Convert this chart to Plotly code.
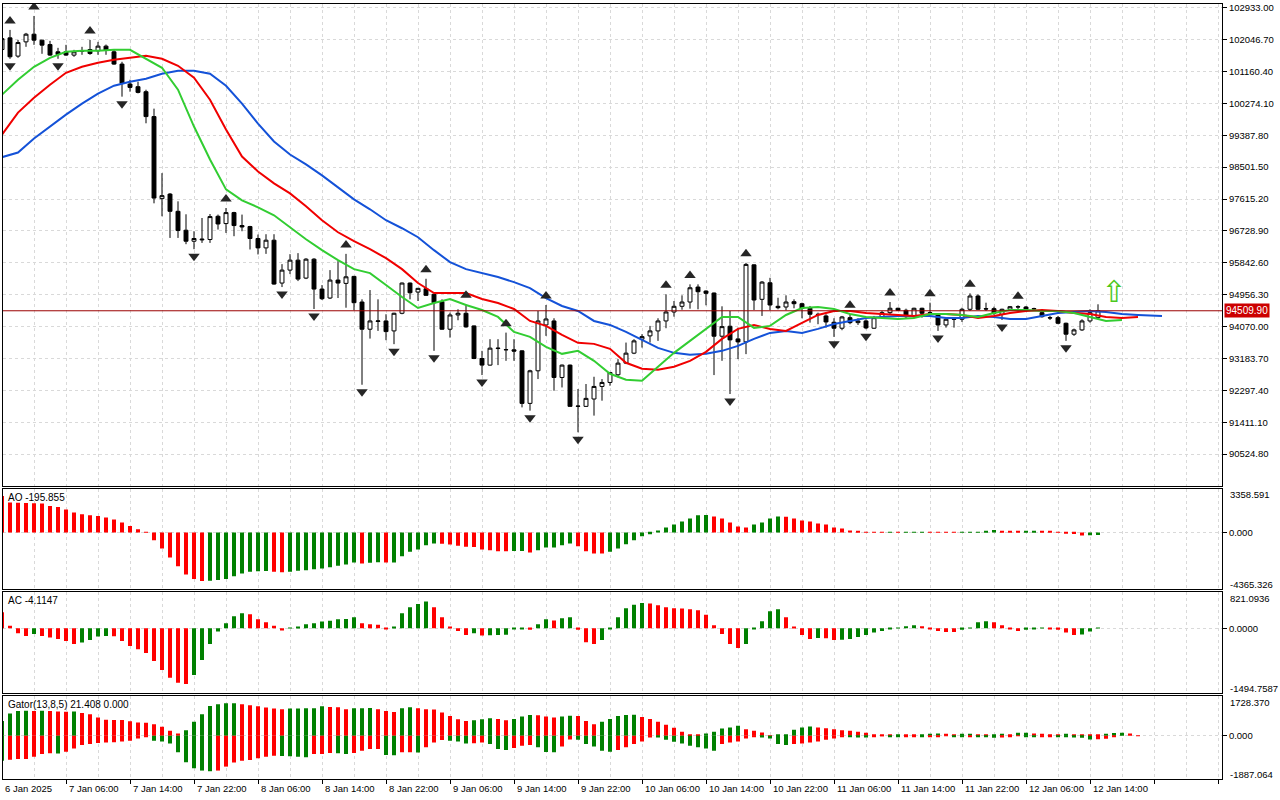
import plotly.graph_objects as go
from plotly.subplots import make_subplots

# H1 bars, first visible bar = 6 Jan 22:00, last = 12 Jan 15:00
bar_open = [
    101770, 102094, 101587, 101983, 102196, 102030, 101908, 101706, 101706, 101615,
    101720, 101770, 101734, 101864, 101706, 101365, 100811, 100737, 100598, 99906,
    97626, 97753, 97274, 96748, 96443, 96479, 96490, 97136, 96933, 97238,
    96878, 96850, 96518, 96257, 96471, 95280, 95640, 95917, 95418, 95944,
    95113, 94864, 95363, 95271, 95465, 94753, 93997, 94213, 94227, 93950,
    94440, 95280, 95030, 95122, 94967, 94762, 93997, 94393, 94440, 94089,
    93183, 93000, 93460, 93424, 93424, 93396, 91936, 92842, 94116, 94227,
    92656, 93000, 91853, 91853, 92058, 92407, 92518, 92731, 93055, 93332,
    93720, 93812, 93950, 94227, 94476, 94634, 94753, 95169, 95058, 95003,
    93803, 94080, 93728, 93645, 95786, 94828, 95288, 94634, 94615, 94762,
    94706, 94579, 94413, 94366, 94191, 94025, 94318, 94180, 94227, 94025,
    94346, 94457, 94579, 94523, 94346, 94579, 94457, 94393, 94116, 94274,
    94274, 94551, 94920, 94568, 94568, 94413, 94551, 94615, 94615, 94568,
    94457, 94318, 94318, 94163, 93859, 93978, 94227, 94318,
]
bar_high = [
    102177, 102315, 102038, 102232, 102703, 102038, 102011, 101817, 101900, 101761,
    101845, 102038, 101983, 101908, 101761, 101429, 100930, 100875, 100653, 100127,
    98335, 97781, 97551, 97191, 96720, 97088, 97199, 97183, 97365, 97260,
    97183, 96870, 96629, 96637, 96637, 95806, 96083, 96111, 95972, 95972,
    95224, 95640, 95889, 96091, 95480, 94828, 95086, 94828, 94413, 94455,
    95295, 95295, 95145, 95399, 94980, 94828, 94457, 94551, 94690, 94100,
    93396, 93720, 93720, 93903, 93720, 93410, 92870, 94504, 94670, 94302,
    93015, 93015, 92335, 92474, 92676, 92612, 92810, 93166, 93626, 93720,
    93859, 94089, 94302, 94967, 94781, 94939, 95244, 95244, 95077, 95015,
    94634, 94504, 94041, 95842, 95800, 95335, 95426, 94872, 94939, 94828,
    94734, 94643, 94457, 94413, 94302, 94366, 94413, 94302, 94274, 94366,
    94504, 94753, 94595, 94568, 94595, 94595, 94734, 94413, 94318, 94318,
    94595, 94994, 94967, 94734, 94623, 94568, 94643, 94662, 94643, 94595,
    94504, 94366, 94366, 94180, 94014, 94274, 94551, 94690,
]
bar_low = [
    101706, 101512, 101540, 101845, 101900, 101651, 101595, 101512, 101595, 101568,
    101623, 101623, 101623, 101623, 101346, 100460, 100598, 100551, 99720, 97496,
    97136, 96534, 96534, 96360, 96221, 96396, 96396, 96767, 96673, 96582,
    96720, 96213, 96075, 96091, 95235, 95169, 95529, 95335, 95390, 94559,
    94809, 94836, 94864, 94595, 94523, 92454, 93737, 93950, 93692, 93582,
    94413, 94828, 94781, 94925, 93396, 93985, 93764, 94246, 94041, 93166,
    92723, 92985, 93000, 93119, 93119, 91825, 91734, 92612, 93812, 92288,
    92379, 91840, 91133, 91840, 91596, 92011, 92427, 92656, 93028, 93305,
    93487, 93626, 93673, 94025, 94346, 94540, 94568, 94551, 94662, 92723,
    93119, 92197, 93166, 93305, 94532, 94366, 94523, 94551, 94523, 94579,
    94302, 94180, 94136, 94041, 93784, 93969, 94136, 94116, 93997, 94010,
    94318, 94413, 94504, 94302, 94318, 94318, 94413, 93950, 94041, 94041,
    94199, 94504, 94532, 94504, 94393, 94255, 94504, 94532, 94532, 94504,
    94318, 94255, 94136, 93673, 93812, 93950, 94180, 94274,
]
bar_close = [
    102074, 101568, 101964, 102196, 102030, 101892, 101615, 101631, 101615, 101706,
    101734, 101659, 101864, 101753, 101365, 100828, 100717, 100579, 99906, 97642,
    97709, 97274, 96739, 96443, 96518, 96498, 97127, 96922, 97238, 96878,
    96839, 96518, 96257, 96471, 95252, 95640, 95917, 95390, 95944, 95113,
    94845, 95363, 95280, 95454, 94734, 93997, 94227, 94227, 93931, 94440,
    95280, 95011, 95133, 94939, 94734, 93997, 94393, 94440, 94061, 93183,
    93000, 93471, 93470, 93430, 93388, 91936, 92842, 94227, 94282, 92656,
    93000, 91853, 91860, 92075, 92407, 92518, 92795, 93055, 93332, 93673,
    93792, 93950, 94227, 94476, 94634, 94753, 95149, 95039, 94994, 93803,
    94069, 93701, 93645, 95798, 94809, 95307, 94670, 94595, 94753, 94706,
    94579, 94413, 94405, 94199, 94025, 94338, 94180, 94227, 94033, 94318,
    94457, 94579, 94523, 94346, 94579, 94440, 94450, 94116, 94274, 94280,
    94551, 94920, 94551, 94560, 94440, 94551, 94623, 94620, 94551, 94560,
    94346, 94310, 94163, 93859, 93978, 94227, 94457, 94509.9,
]

# Alligator lines, read every second bar (shifted 8 / 5 / 3 bars to the right)
jaw_x = list(range(0, 143, 2)) + [145]
jaw = [
    98778, 98908, 99296, 99629, 99961, 100266, 100543, 100764, 100875, 100958,
    101097, 101180, 101180, 101097, 100764, 100266, 99712, 99213, 98853, 98576,
    98271, 97939, 97606, 97330, 97025, 96803, 96554, 96194, 95861, 95667,
    95557, 95446, 95307, 95141, 94864, 94642, 94504, 94227, 94116, 93922,
    93701, 93479, 93341, 93285, 93313, 93396, 93534, 93729, 93895, 93950,
    93895, 94006, 94144, 94227, 94310, 94338, 94366, 94366, 94366, 94310,
    94310, 94366, 94338, 94282, 94282, 94366, 94449, 94476, 94504, 94476,
    94421, 94393, 94366,
]
teeth_x = list(range(0, 143, 2))
teeth = [
    99407, 100016, 100432, 100792, 101124, 101291, 101401, 101484, 101540, 101595,
    101512, 101318, 100986, 100376, 99545, 98797, 98382, 98050, 97773, 97413,
    97025, 96692, 96443, 96221, 95972, 95667, 95280, 95003, 95003, 95003,
    94836, 94726, 94560, 94227, 94089, 93839, 93618, 93590, 93451, 93064,
    92897, 92870, 92953, 93119, 93368, 93729, 94006, 94116, 94006, 93950,
    94172, 94393, 94504, 94504, 94449, 94421, 94393, 94366, 94421, 94421,
    94393, 94310, 94366, 94449, 94504, 94532, 94504, 94449, 94421, 94338,
    94310, 94338,
]
lips_x = list(range(0, 141, 2))
lips = [
    100515, 100930, 101291, 101540, 101706, 101734, 101734, 101761, 101761, 101512,
    101263, 100653, 99629, 98714, 97883, 97578, 97385, 97163, 96831, 96498,
    96194, 95917, 95667, 95557, 95224, 94892, 94587, 94726, 94836, 94670,
    94532, 94338, 93922, 93784, 93507, 93313, 93396, 93119, 92759, 92593,
    92565, 92953, 93341, 93673, 94006, 94338, 94338, 94033, 94089, 94393,
    94587, 94615, 94560, 94421, 94338, 94310, 94282, 94310, 94421, 94421,
    94393, 94338, 94449, 94532, 94532, 94504, 94504, 94449, 94338, 94227,
    94255,
]

fractal_up = [1, 4, 11, 28, 43, 53, 58, 63, 68, 83, 86, 93, 106, 111, 116, 121, 127]
fractal_down = [1, 7, 15, 24, 35, 39, 45, 49, 54, 60, 66, 72, 91, 104, 108, 117, 125, 133]

signal_x = [139]
signal_y = [94950]

ao = [
    2805, 2295, 2290, 2270, 2250, 2219, 2040, 1964, 1760, 1530,
    1403, 1326, 1275, 1148, 995, 765, 510, 255, 51, -587,
    -1224, -1913, -2576, -3213, -3570, -3723, -3698, -3647, -3570, -3341,
    -3137, -3009, -2958, -2950, -3009, -3035, -3009, -2933, -2882, -2805,
    -2754, -2652, -2550, -2448, -2295, -2372, -2310, -2280, -2300, -2290,
    -1810, -1479, -1300, -969, -842, -850, -918, -1020, -1097, -1110,
    -1300, -1352, -1428, -1440, -1420, -1410, -1530, -1352, -1148, -1140,
    -969, -842, -1045, -1428, -1606, -1615, -1479, -1224, -892, -587,
    -280, -128, 153, 383, 612, 842, 1071, 1326, 1352, 1224,
    1071, 765, 459, 383, 612, 765, 1071, 1224, 1210, 1071,
    918, 842, 689, 612, 383, 306, 153, 77, 25, 12,
    5, 20, 10, 40, 55, 60, 40, 15, 5, -5,
    10, 25, 60, 110, 200, 130, 80, 75, 80, 85,
    80, 70, 20, -30, -110, -230, -215, -195.855,
]
ac = [
    369, 54, -115, -177, -131, -177, -215, -246, -292, -361,
    -331, -269, -192, -177, -185, -292, -408, -484, -569, -754,
    -961, -1138, -1253, -1284, -1077, -731, -361, -77, 115, 277,
    346, 323, 208, 138, 54, -54, 15, 38, 92, 115,
    154, 169, 208, 212, 254, 115, 92, 77, -15, 31,
    346, 484, 554, 615, 484, 254, 23, -62, -154, -115,
    -169, -162, -154, -150, -23, -8, -38, 92, 208, 177,
    231, 254, -38, -323, -361, -269, -31, 254, 461, 538,
    577, 570, 530, 484, 461, 455, 438, 415, 308, 69,
    -131, -361, -454, -361, -31, 161, 392, 438, 254, 23,
    -154, -246, -223, -230, -269, -265, -246, -200, -154, -100,
    -62, -23, 15, 46, 69, 46, -23, -62, -85, -88,
    -38, 15, 138, 161, 138, 69, -23, -62, -38, -8,
    15, -8, -38, -100, -154, -146, -77, -4.1147,
]
gator_up = [
    651, 969, 1085, 1090, 1080, 1088, 1082, 1056, 1050, 1060,
    998, 940, 796, 695, 690, 685, 637, 579, 564, 506,
    391, 217, 101, 246, 608, 941, 1302, 1375, 1418, 1425,
    1375, 1331, 1288, 1230, 1187, 1158, 1187, 1190, 1201, 1205,
    1288, 1259, 1244, 1158, 1201, 1205, 1210, 1158, 1085, 1042,
    1201, 1244, 1201, 1158, 1150, 1013, 868, 724, 651, 680,
    724, 767, 738, 680, 738, 839, 912, 897, 839, 796,
    839, 880, 868, 651, 506, 608, 738, 868, 912, 915,
    825, 738, 608, 477, 347, 174, 58, 43, 101, 174,
    318, 362, 434, 289, 217, 145, 20, 30, 72, 260,
    362, 405, 362, 333, 289, 246, 217, 174, 130, 43,
    40, 38, 58, 43, 30, 58, 87, 101, 87, 72,
    87, 90, 58, 40, 58, 87, 58, 130, 135, 101,
    87, 72, 70, 87, 58, 43, 40, 30, 87, 120,
    130, 100, 21.408,
]
gator_down = [
    -1085, -1042, -1013, -1010, -912, -796, -767, -775, -695, -550,
    -405, -362, -318, -289, -285, -246, -217, -116, -29, -217,
    -246, -333, -724, -1158, -1418, -1519, -1548, -1519, -1346, -1172,
    -1085, -1056, -984, -912, -868, -883, -897, -912, -940, -796,
    -790, -752, -760, -796, -752, -651, -579, -575, -839, -845,
    -724, -720, -730, -506, -289, -188, -217, -246, -333, -330,
    -289, -362, -579, -622, -535, -434, -405, -506, -710, -724,
    -463, -160, -174, -362, -463, -651, -695, -622, -506, -362,
    -246, -72, -80, -174, -260, -333, -434, -506, -550, -651,
    -362, -290, -245, -116, -30, -72, -116, -362, -405, -362,
    -333, -289, -246, -174, -116, -29, -30, -72, -80, -29,
    -15, -29, -58, -30, -20, -58, -55, -29, -15, -20,
    -58, -29, -43, -58, -87, -80, -43, -15, -30, -43,
    -40, -29, -43, -58, -72, -87, -160, -150, -130, -60,
    0.0,
]

price_ticks = [102933.00, 102046.70, 101160.40, 100274.10, 99387.80, 98501.50,
               97615.20, 96728.90, 95842.60, 94956.30, 94070.00, 93183.70,
               92297.40, 91411.10, 90524.80]
ao_range = [-4365.326, 3358.591]
ac_range = [-1494.7587, 821.0936]
gator_range = [-1887.064, 1728.370]
time_ticks = list(range(0, 137, 8))
time_labels = ["6 Jan 2025", "7 Jan 06:00", "7 Jan 14:00", "7 Jan 22:00",
               "8 Jan 06:00", "8 Jan 14:00", "8 Jan 22:00", "9 Jan 06:00",
               "9 Jan 14:00", "9 Jan 22:00", "10 Jan 06:00", "10 Jan 14:00",
               "10 Jan 22:00", "11 Jan 06:00", "11 Jan 14:00", "11 Jan 22:00",
               "12 Jan 06:00", "12 Jan 14:00"]

GREEN = "#008000"
RED = "#FF0000"
GRID = "#D9D9D9"
FONT = "Liberation Sans"
x_range = [0.125, 152.5]
main_range = [89647, 103035]
main_px = 483  # height of price pane in pixels

bars = list(range(len(bar_close)))


def hist_colors(vals, first=RED, use_abs=False):
    cols = [first]
    for a, b in zip(vals[:-1], vals[1:]):
        if use_abs:
            a, b = abs(a), abs(b)
        cols.append(GREEN if b > a else RED)
    return cols


fig = make_subplots(rows=4, cols=1, shared_xaxes=True, vertical_spacing=0.0)

fig.add_trace(go.Candlestick(
    x=bars, open=bar_open, high=bar_high, low=bar_low, close=bar_close,
    increasing=dict(line=dict(color="black", width=1), fillcolor="white"),
    decreasing=dict(line=dict(color="black", width=1), fillcolor="black"),
    whiskerwidth=0, hoverinfo="skip", showlegend=False), row=1, col=1)

fig.add_trace(go.Scatter(x=jaw_x, y=jaw, mode="lines",
                         line=dict(color="#1452D8", width=2), hoverinfo="skip"), row=1, col=1)
fig.add_trace(go.Scatter(x=teeth_x, y=teeth, mode="lines",
                         line=dict(color="#F00000", width=2), hoverinfo="skip"), row=1, col=1)
fig.add_trace(go.Scatter(x=lips_x, y=lips, mode="lines",
                         line=dict(color="#32CD32", width=2), hoverinfo="skip"), row=1, col=1)

pad = (main_range[1] - main_range[0]) / main_px
fig.add_trace(go.Scatter(
    x=fractal_up, y=[bar_high[i] + 9 * pad for i in fractal_up], mode="markers",
    marker=dict(symbol="triangle-up", size=10, color="#262626"), hoverinfo="skip"), row=1, col=1)
fig.add_trace(go.Scatter(
    x=fractal_down, y=[bar_low[i] - 7 * pad for i in fractal_down], mode="markers",
    marker=dict(symbol="triangle-down", size=10, color="#262626"), hoverinfo="skip"), row=1, col=1)

fig.add_trace(go.Scatter(x=signal_x, y=signal_y, mode="text", text=["\u21e7"],
                         textfont=dict(family="DejaVu Sans", size=30, color="#4CC81E"),
                         hoverinfo="skip"), row=1, col=1)

fig.add_trace(go.Bar(x=bars, y=ao, marker_color=hist_colors(ao), marker_line_width=0,
                     width=0.5, hoverinfo="skip"), row=2, col=1)
fig.add_trace(go.Bar(x=bars, y=ac, marker_color=hist_colors(ac), marker_line_width=0,
                     width=0.5, hoverinfo="skip"), row=3, col=1)
fig.add_trace(go.Bar(x=list(range(len(gator_up))), y=gator_up,
                     marker_color=hist_colors(gator_up, GREEN, True), marker_line_width=0,
                     width=0.5, hoverinfo="skip"), row=4, col=1)
fig.add_trace(go.Bar(x=list(range(len(gator_down))), y=gator_down,
                     marker_color=hist_colors(gator_down, GREEN, True), marker_line_width=0,
                     width=0.5, hoverinfo="skip"), row=4, col=1)

# current price line
fig.add_shape(type="line", xref="x domain", yref="y", x0=0, x1=1,
              y0=bar_close[-1], y1=bar_close[-1], line=dict(color="#9A0000", width=1))

domains = [[0.37838, 1.0], [0.24453, 0.37452], [0.11068, 0.24067], [0.0, 0.10682]]
for i in range(1, 5):
    fig.update_xaxes(range=x_range, showline=True, mirror=True, linecolor="black",
                     linewidth=1, showgrid=True, gridcolor=GRID, griddash="3px,3px",
                     gridwidth=1, tickmode="linear", tick0=0, dtick=8,
                     ticks="outside" if i == 4 else "", ticklen=4, tickcolor="black",
                     showticklabels=False, zeroline=False, rangeslider_visible=False,
                     minor=dict(tick0=0, dtick=4, showgrid=True, gridcolor=GRID,
                                griddash="3px,3px", ticks=""),
                     row=i, col=1)

fig.update_yaxes(domain=domains[0], range=main_range, side="right",
                 tickvals=price_ticks, ticktext=[f"{v:.2f}" for v in price_ticks],
                 ticks="outside", ticklen=4, tickcolor="black", showline=True,
                 mirror=True, linecolor="black", showgrid=True, gridcolor=GRID,
                 griddash="3px,3px", zeroline=False, row=1, col=1)

sub_axes = [(2, ao_range, "0.000", "{:.3f}"), (3, ac_range, "0.0000", "{:.4f}"),
            (4, gator_range, "0.000", "{:.3f}")]
annotations = []
for row, rng, zero_txt, fmt in sub_axes:
    fig.update_yaxes(domain=domains[row - 1], range=rng, side="right", tickvals=[0],
                     ticktext=[zero_txt], ticks="outside", ticklen=4, tickcolor="black",
                     showline=True, mirror=True, linecolor="black", showgrid=True,
                     gridcolor=GRID, griddash="3px,3px", zeroline=False, row=row, col=1)
    yref = f"y{row}"
    annotations.append(dict(x=1, xref="paper", xanchor="left", xshift=6, y=rng[1],
                            yref=yref, yanchor="middle", yshift=-6,
                            text=fmt.format(rng[1]), showarrow=False))
    annotations.append(dict(x=1, xref="paper", xanchor="left", xshift=6, y=rng[0],
                            yref=yref, yanchor="middle", yshift=5,
                            text=fmt.format(rng[0]), showarrow=False))

pane_titles = [("y2", f"AO {ao[-1]:.3f}"), ("y3", f"AC {ac[-1]:.4f}"),
               ("y4", f"Gator(13,8,5) {gator_up[-1]:.3f} {abs(gator_down[-1]):.3f}")]
for yref, txt in pane_titles:
    annotations.append(dict(x=0, xref="paper", xanchor="left", xshift=3, y=1,
                            yref=f"{yref} domain", yanchor="top", yshift=-1,
                            text=txt, showarrow=False, font=dict(size=10)))

# time labels start at their tick, left aligned (paper coords so the first one is kept)
for k, lab in zip(time_ticks, time_labels):
    xp = (k - x_range[0]) / (x_range[1] - x_range[0])
    annotations.append(dict(x=xp, xref="paper", xanchor="left", xshift=1, y=0,
                            yref="paper", yanchor="top", yshift=-2, text=lab,
                            showarrow=False))

annotations.append(dict(x=1, xref="paper", xanchor="left", xshift=2, y=bar_close[-1],
                        yref="y", yanchor="middle", text=f"{bar_close[-1]:.2f}",
                        showarrow=False, bgcolor="#CC0000", borderpad=1,
                        font=dict(color="white", size=10)))

fig.update_layout(width=1280, height=800, margin=dict(l=3, r=58, t=2, b=21),
                  paper_bgcolor="white", plot_bgcolor="white", showlegend=False,
                  barmode="overlay", font=dict(family=FONT, size=9.5, color="black"),
                  annotations=annotations)

fig.write_html("out.html", config={"displayModeBar": False},
               post_script="document.body.style.margin='0';document.body.style.overflow='hidden';")
